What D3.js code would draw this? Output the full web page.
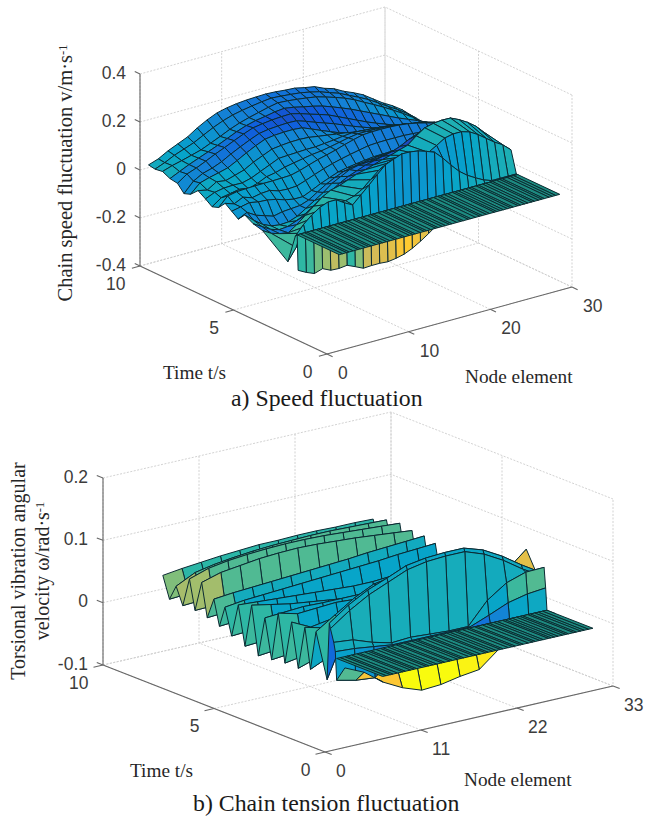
<!DOCTYPE html>
<html>
<head>
<meta charset="utf-8">
<script src="https://cdn.jsdelivr.net/npm/d3@7"></script>
<style>
  html, body { margin: 0; padding: 0; background: #fff; }
  svg { display: block; }
  .tick-label { font-family: "Liberation Sans", Arial, sans-serif; font-size: 17.5px; fill: #3c3c3c; }
  .axis-title { font-family: "Liberation Serif", "Times New Roman", serif; font-size: 19.3px; fill: #262626; }
  .caption { font-family: "Liberation Serif", "Times New Roman", serif; font-size: 23.8px; fill: #1a1a1a; }
</style>
</head>
<body>
<svg id="chart" width="647" height="818"></svg>
<script>
// parula, low to high
const parulaColors = ["#352a87", "#0f5cdd", "#1481d6", "#06a4ca", "#2eb7a4", "#87bf77", "#d1bb59", "#fec832", "#f9fb0e"];

// ---- a) speed fluctuation ----
const speedZTicks = [-0.4, -0.2, 0, 0.2, 0.4];
const speedTimeTicks = [0, 5, 10];
const speedNodeTicks = [0, 10, 20, 30];
const speedNodes = [1.5, 2.5, 3.5, 4.5, 5.5, 6.5, 7.5, 8.5, 9.5, 10.5, 11.5, 12.5, 13.5, 14.5, 15.5, 16.5, 17.5, 18.5, 19.5, 20.5, 21.5, 22.5, 23.5, 24.5, 25.5, 26.5, 27.5, 28.5];
// rows run late at the far nodes
const speedSkew = [1, .989, .979, .968, .957, .947, .936, .925, .914, .904, .893, .882, .872, .861, .85, .84, .829, .818, .807, .797, .786, .775, .765, .754, .743, .733, .722, .711];
const speedTimes = [2.2, 2.25, 2.35, 2.75, 4.1, 4.6, 5.05, 5.4, 5.75, 6.1, 6.45, 6.8, 7.15, 7.55, 7.95, 8.3, 8.65, 9.05, 9.45, 9.85, 10.2];
const speedRows = [
  [-.146, -.164, -.178, -.167, -.183, -.185, -.181, -.196, -.212, -.21, -.21, -.213, -.208, -.2, -.185, -.165, -.142, -.117, -.09, -.06, -.03, 0, 0, 0, 0, 0, 0, 0],
  [0, 0, 0, 0, 0, 0, 0, 0, 0, 0, 0, 0, 0, 0, 0, 0, 0, 0, 0, 0, 0, 0, 0, 0, 0, 0, 0, 0],
  [-.01, .03, .06, .083, .096, .096, .074, .056, .088, .12, .154, .186, .2, .213, .212, .207, .196, .183, .15, .111, .076, .05, .03, .012, 0, 0, 0, 0],
  [-.13, -.08, -.03, 0, .03, .05, .06, .06, .07, .09, .12, .15, .17, .18, .18, .175, .17, .17, .19, .212, .22, .22, .21, .19, .165, .14, .12, .09],
  [-.05, -.07, -.08, -.085, -.06, -.03, 0, .03, .05, .06, .075, .09, .1, .112, .125, .135, .148, .16, .19, .215, .225, .23, .23, .215, .195, .17, .135, .096],
  [-.04, -.06, -.08, -.09, -.085, -.07, -.05, -.025, 0, .02, .045, .065, .08, .095, .105, .115, .125, .14, .16, .175, .185, .19, .19, .18, .165, .145, .115, .08],
  [-.02, -.05, -.075, -.09, -.094, -.09, -.075, -.05, -.025, 0, .03, .05, .07, .08, .085, .09, .095, .1, .11, .12, .13, .14, .15, .15, .14, .12, .09, .06],
  [-.05, -.03, -.05, -.06, -.07, -.06, -.055, -.05, -.035, -.01, .015, .035, .052, .062, .07, .077, .083, .087, .093, .1, .107, .113, .12, .12, .115, .1, .08, .055],
  [-.03, -.02, -.01, -.015, -.015, -.02, -.03, -.035, -.033, -.015, .005, .022, .038, .048, .056, .063, .07, .073, .077, .08, .083, .086, .089, .092, .093, .085, .07, .05],
  [-.01, -.02, 0, -.01, 0, .005, -.005, -.005, 0, .015, .032, .048, .062, .074, .085, .095, .105, .11, .113, .115, .117, .117, .116, .114, .11, .1, .086, .07],
  [-.04, 0, .01, .015, .019, .022, .025, .029, .033, .045, .06, .075, .087, .1, .115, .128, .14, .145, .148, .15, .15, .148, .143, .136, .128, .118, .103, .088],
  [-.05, -.02, -.01, 0, -.005, .01, .03, .04, .055, .065, .075, .085, .092, .102, .113, .124, .133, .136, .138, .139, .138, .136, .131, .126, .12, .11, .1, .085],
  [-.03, -.01, 0, .005, .007, .02, .04, .06, .08, .085, .09, .095, .098, .105, .112, .12, .127, .128, .128, .128, .127, .124, .12, .117, .113, .105, .095, .083],
  [-.01, -.015, .012, .01, .025, .04, .065, .085, .105, .113, .12, .124, .125, .122, .12, .117, .115, .111, .106, .102, .098, .097, .096, .095, .094, .088, .08, .07],
  [-.04, 0, .015, .028, .042, .065, .09, .113, .133, .142, .148, .152, .152, .14, .127, .115, .103, .094, .085, .077, .07, .07, .072, .074, .075, .07, .065, .06],
  [-.05, -.005, .02, .035, .055, .08, .103, .125, .145, .155, .162, .168, .17, .161, .15, .14, .13, .118, .106, .095, .085, .079, .074, .07, .066, .061, .057, .054],
  [-.02, .012, .03, .052, .075, .095, .117, .138, .157, .167, .176, .183, .188, .182, .173, .165, .156, .142, .128, .114, .1, .088, .077, .066, .056, .052, .05, .048],
  [-.015, .008, .03, .05, .07, .09, .112, .134, .153, .167, .178, .19, .198, .196, .191, .187, .181, .171, .16, .148, .134, .12, .106, .092, .078, .066, .054, .04],
  [0, .018, .032, .048, .064, .085, .107, .13, .15, .166, .181, .196, .208, .21, .21, .209, .207, .2, .192, .182, .169, .152, .136, .119, .1, .08, .058, .033],
  [-.005, .016, .04, .06, .08, .105, .13, .152, .17, .183, .195, .206, .215, .217, .218, .218, .215, .21, .2, .191, .176, .162, .146, .126, .105, .086, .063, .036],
  [0, .019, .046, .069, .092, .123, .15, .173, .188, .199, .208, .215, .221, .224, .225, .227, .223, .221, .208, .2, .183, .171, .156, .133, .11, .092, .069, .038]
];
// colour of each strip between two rows
const speedShades = [.5, .43, .5, .6, .24, .22, .28, .32, .34, .36, .38, .38, .4, .4, .3, .28, .3, .42, .42, .42, .42];
const speedSkirtTones = [.5, .52, .6, .66, .72, .66, .5, .62, .74, .76, .78, .8, .86, .88, .84, .8, .74, .7, .6, .55, .5, .5, .5, .5, .5, .5, .5];
const speedHumpTones = [.52, .52, .5, .5, .5, .48, .48, .46, .44, .42, .4, .38, .36, .36, .36, .38, .4, .42, .44, .44, .45, .45, .44, .42, .42, .42, .42];
const speedValleyTones = [.45, .45, .45, .45, .42, .4, .4, .38, .36, .32, .28, .25, .2, .15, .1, .05, .03, .03, .05, .1, .15, .2, .25, .25, .28, .3, .3];
const speedBandNodes = [1.5, 1.9, 2.4, 2.7, 3.2, 3.8, 4.1, 4.7, 5.1, 5.4, 6, 6.5, 6.8, 7.3, 7.7, 8.3, 8.6, 9.2, 9.5, 10.1, 10.5, 10.8, 11.4, 11.9, 12.2, 12.7, 13.3, 13.6, 14.1, 14.5, 15, 15.3, 15.9, 16.4, 16.7, 17.3, 17.6, 18.2, 18.7, 19, 19.5, 19.9, 20.5, 20.8, 21.2, 21.6, 22.1, 22.5, 22.8, 23.4, 23.7, 24.2, 24.6, 25.1, 25.4, 25.9, 26.3, 26.6, 27.2, 27.6, 28, 28.5];
const speedBandTimes = [0, 2.25];

// ---- b) chain tension fluctuation ----
const torsionZTicks = [-0.1, 0, 0.1, 0.2];
const torsionTimeTicks = [0, 5, 10];
const torsionNodeTicks = [0, 11, 22, 33];
const torsionNodes = [6.6, 8.8, 11, 13.2, 15.4, 17.6, 19.8, 22, 24.2, 26.4, 28.6, 30.7];
const torsionTimes = [1.7, 2.07, 2.13, 2.2, 2.35, 2.4, 2.5, 3, 3.25, 3.5, 3.8, 4.1, 4.4, 4.7, 5, 5.3, 5.6, 5.9, 6.2, 6.5, 6.8, 7.1, 7.35, 7.6, 7.9, 8.15, 8.45, 8.7, 9, 9.3, 9.6, 9.9];
const torsionRows = [
  [-.01, -.024, -.047, -.063, -.074, -.072, -.066, -.062, -.037, -.01, 0, 0],
  [-.035, -.042, -.045, -.02, -.01, -.005, 0, 0, 0, 0, 0, 0],
  [.01, .008, .004, 0, 0, 0, 0, 0, .012, .025, .032, .035],
  [.024, .021, .01, .002, .004, .002, 0, 0, .035, .056, .066, .067],
  [.044, .066, .084, .097, .11, .116, .118, .118, .107, .09, .069, .052],
  [.052, .074, .091, .103, .116, .121, .123, .123, .113, .096, .075, .057],
  [-.04, .03, .07, .09, .1, .105, .108, .108, .1, .085, .065, .05],
  [.03, .05, .07, .085, .09, .095, .1, .1, .09, .08, .06, .085],
  [-.034, -.02, -.01, -.005, 0, 0, 0, 0, 0, 0, 0, 0],
  [.03, .022, .03, .03, .03, .03, .03, .03, .03, .03, .03, .03],
  [-.04, -.03, -.02, -.01, 0, 0, 0, 0, 0, 0, 0, 0],
  [.03, .015, .02, .02, .025, .025, .03, .03, .03, .03, .03, .03],
  [-.04, -.035, -.03, -.02, -.01, -.005, 0, 0, 0, 0, 0, 0],
  [.036, .028, .03, .032, .03, .028, .026, .025, .025, .025, .025, .025],
  [-.043, -.04, -.035, -.03, -.025, -.02, -.02, -.02, -.02, -.02, -.02, -.02],
  [.02, .022, .024, .023, .023, .023, .024, .024, .025, .025, .025, .025],
  [-.045, -.042, -.04, -.035, -.03, -.03, -.03, -.03, -.03, -.03, -.03, -.03],
  [.032, .026, .02, .016, .012, .008, .007, .007, .01, .012, .015, .018],
  [-.038, -.036, -.034, -.032, -.03, -.03, -.03, -.03, -.03, -.03, -.03, -.03],
  [.024, .022, .02, .018, .016, .014, .012, .012, .014, .016, .018, .02],
  [-.03, -.028, -.026, -.025, -.025, -.025, -.025, -.025, -.025, -.025, -.025, -.025],
  [.012, .016, .018, .02, .022, .024, .026, .028, .03, .033, .035, .037],
  [-.022, -.02, -.018, -.017, -.016, -.015, -.015, -.015, -.015, -.015, -.015, -.015],
  [.018, .021, .023, .025, .027, .029, .031, .033, .036, .038, .04, .042],
  [-.016, -.014, -.012, -.011, -.01, -.01, -.01, -.01, -.01, -.01, -.01, -.01],
  [.037, .046, .05, .054, .056, .057, .056, .054, .052, .049, .046, .043],
  [-.012, -.011, -.01, -.009, -.008, -.007, -.006, -.006, -.005, -.005, -.005, -.005],
  [.035, .045, .05, .053, .055, .056, .056, .055, .053, .051, .049, .047],
  [-.012, -.01, -.008, -.007, -.006, -.006, -.005, -.005, -.005, -.005, -.005, -.005],
  [.015, .03, .036, .04, .043, .045, .046, .047, .047, .046, .045, .044],
  [-.01, -.008, -.006, -.005, -.004, -.004, -.004, -.004, -.004, -.004, -.004, -.004],
  [.024, .028, .031, .034, .036, .038, .038, .039, .039, .038, .038, .037]
];
const torsionShades = [.9, .4, .4, .46, .46, .4, .4, .4, .38, .4, .38, .4, .38, .4, .38, .4, .38, .4, .38, .4, .38, .4, .42, .42, .56, .56, .56, .56, .56, .5, .5];
const torsionBulgeTones = [.55, .85, .87, 1, 1, 1, .98, .96, .8, .5, .5];
const torsionLobeTones = [.36, .32, .27, .2, .2, .2, .2, .2, .26, .38, .4];
const torsionNearTones = [.42, .42, .4, .4, .4, .4, .4, .4, .38, .52, .55];
const torsionSpikeTones = [.17, .38, .38, .38, .38, .38, .38, .38, .38, .38, .38];
const torsionBackTones = [.5, .38, .38, .38, .38, .38, .38, .38, .38, .38, .8];
const torsionBandNodes = [6.6, 7, 7.5, 7.8, 8.3, 8.9, 9.2, 9.8, 10.2, 10.5, 11.1, 11.6, 11.9, 12.4, 12.8, 13.4, 13.7, 14.3, 14.6, 15.2, 15.6, 15.9, 16.5, 17, 17.3, 17.8, 18.4, 18.7, 19.2, 19.6, 20.1, 20.4, 21, 21.5, 21.8, 22.4, 22.7, 23.3, 23.8, 24.1, 24.6, 25, 25.6, 25.9, 26.3, 26.7, 27.2, 27.6, 27.9, 28.5, 28.8, 29.3, 29.7, 30.2, 30.7];
const torsionBandTimes = [0, 2.07];

const svg = d3.select("#chart");
const parulaScale = d3.scaleLinear().domain(d3.range(parulaColors.length).map(i => i / (parulaColors.length - 1))).range(parulaColors).clamp(true);

function drawPanel(opts) {
  const g = svg.append("g");

  const nodeScale = d3.scaleLinear().domain(opts.nodeDomain).range([[0, 0], opts.nodeVec]);
  const timeScale = d3.scaleLinear().domain([0, 10]).range([[0, 0], opts.timeVec]);
  const zScale = d3.scaleLinear().domain(opts.zDomain).range([0, -opts.zHeight]);
  const project = (n, t, z) => {
    const a = nodeScale(n), b = timeScale(t);
    return [opts.corner[0] + a[0] + b[0], opts.corner[1] + a[1] + b[1] + zScale(z)];
  };
  const line = d3.line();
  const nMax = opts.nodeDomain[1], zMin = opts.zDomain[0], zMax = opts.zDomain[1];

  // dotted grid on the walls and floor
  const grid = [];
  opts.zTicks.forEach(z => {
    grid.push([project(0, 10, z), project(nMax, 10, z), project(nMax, 0, z)]);
  });
  opts.nodeTicks.forEach(n => {
    grid.push([project(n, 0, zMin), project(n, 10, zMin), project(n, 10, zMax)]);
  });
  opts.timeTicks.forEach(t => {
    grid.push([project(0, t, zMin), project(nMax, t, zMin), project(nMax, t, zMax)]);
  });
  g.append("g").selectAll("path").data(grid).join("path")
    .attr("d", line)
    .attr("fill", "none")
    .attr("stroke", "#cdcdcd")
    .attr("stroke-width", 0.9)
    .attr("stroke-dasharray", "2 1.5");

  // solid axes
  const axes = [
    [project(0, 10, zMin), project(0, 10, zMax)],
    [project(0, 10, zMin), project(0, 0, zMin)],
    [project(0, 0, zMin), project(nMax, 0, zMin)]
  ];
  opts.zTicks.forEach(z => axes.push([project(0, 10, z), project(0, 10.28, z)]));
  opts.timeTicks.forEach(t => axes.push([project(0, t, zMin), project(-nMax * 0.033, t, zMin)]));
  opts.nodeTicks.forEach(n => axes.push([project(n, 0, zMin), project(n, -0.3, zMin)]));
  g.append("g").selectAll("path").data(axes).join("path")
    .attr("d", line)
    .attr("fill", "none")
    .attr("stroke", "#666")
    .attr("stroke-width", 1.1);

  // surface strips, far rows first and far nodes first
  const quads = [];
  for (let r = opts.times.length - 2; r >= 0; r--) {
    for (let c = opts.nodes.length - 2; c >= 0; c--) {
      const tAt = (row, col) => {
        if (!opts.skew) return opts.times[row];
        return opts.skewFrom + (opts.times[row] - opts.skewFrom) * opts.skew[col];
      };
      const corners = [[r, c], [r, c + 1], [r + 1, c + 1], [r + 1, c]];
      const pts = corners.map(d => project(opts.nodes[d[1]], tAt(d[0], d[1]), opts.rows[d[0]][d[1]]));
      const mean = Math.max(d3.mean(corners, d => opts.rows[d[0]][d[1]]), 0);
      const tones = opts.tones[r];
      let frac = tones ? tones[c] : opts.shades[r] - opts.gain * mean;
      if (c === 0 && r > 7) frac += opts.edgeLift;
      quads.push({ pts, frac });
    }
  }
  g.append("g").selectAll("path").data(quads).join("path")
    .attr("d", d => line(d.pts) + "Z")
    .attr("fill", d => parulaScale(d.frac))
    .attr("stroke", "#0b2a33")
    .attr("stroke-width", 1)
    .attr("stroke-linejoin", "round");

  // flat dense strip nearest the viewer
  const band = [];
  for (let c = opts.bandNodes.length - 2; c >= 0; c--) {
    band.push([
      project(opts.bandNodes[c], opts.bandTimes[1], 0),
      project(opts.bandNodes[c + 1], opts.bandTimes[1], 0),
      project(opts.bandNodes[c + 1], opts.bandTimes[0], 0),
      project(opts.bandNodes[c], opts.bandTimes[0], 0)
    ]);
  }
  g.append("g").selectAll("path").data(band).join("path")
    .attr("d", d => line(d) + "Z")
    .attr("fill", "#1d8a80")
    .attr("stroke", "#0a2b30")
    .attr("stroke-width", 1);

  // tick labels
  g.append("g").selectAll("text").data(opts.zTicks).join("text")
    .attr("class", "tick-label")
    .attr("text-anchor", "end")
    .attr("x", z => project(0, 10, z)[0] - opts.zLabelGap)
    .attr("y", z => project(0, 10, z)[1] - 1.5)
    .attr("dy", "0.35em")
    .text(z => z);
  g.append("g").selectAll("text").data(opts.timeTicks).join("text")
    .attr("class", "tick-label")
    .attr("text-anchor", "end")
    .attr("x", t => project(0, t, zMin)[0] - 14.5)
    .attr("y", t => project(0, t, zMin)[1] + 17.5)
    .attr("dy", "0.35em")
    .text(t => t);
  g.append("g").selectAll("text").data(opts.nodeTicks).join("text")
    .attr("class", "tick-label")
    .attr("text-anchor", "start")
    .attr("x", n => project(n, 0, zMin)[0] + 11)
    .attr("y", n => project(n, 0, zMin)[1] + 19)
    .attr("dy", "0.35em")
    .text(n => n);

  // titles
  g.append("text").attr("class", "axis-title").attr("x", opts.timeTitle[0]).attr("y", opts.timeTitle[1]).text("Time t/s");
  g.append("text").attr("class", "axis-title").attr("x", opts.nodeTitle[0]).attr("y", opts.nodeTitle[1]).text("Node element");
  g.append("text").attr("class", "caption").attr("x", opts.captionAt[0]).attr("y", opts.captionAt[1]).text(opts.caption);

  opts.yTitle.forEach(l => {
    const t = g.append("text")
      .attr("class", "axis-title")
      .attr("text-anchor", "middle")
      .style("font-size", l.size + "px")
      .attr("transform", `translate(${l.x},${l.y}) rotate(-90)`);
    t.append("tspan").text(l.text);
    if (l.sup) t.append("tspan").attr("dy", "-0.4em").style("font-size", "12.5px").text(l.sup);
  });
}

drawPanel({
  corner: [327, 354], nodeVec: [245, -67], timeVec: [-187, -88], zHeight: 192,
  nodeDomain: [0, 30], zDomain: [-0.4, 0.4],
  zTicks: speedZTicks, timeTicks: speedTimeTicks, nodeTicks: speedNodeTicks,
  nodes: speedNodes, times: speedTimes, rows: speedRows,
  skew: speedSkew, skewFrom: 2.25,
  shades: speedShades, gain: 1, edgeLift: 0,
  tones: { 0: speedSkirtTones, 3: speedHumpTones, 5: speedValleyTones },
  bandNodes: speedBandNodes, bandTimes: speedBandTimes,
  zLabelGap: 14,
  timeTitle: [163, 379], nodeTitle: [465, 383],
  captionAt: [231, 406], caption: "a) Speed fluctuation",
  yTitle: [{ x: 72, y: 173, size: 20.5, text: "Chain speed fluctuation v/m·s", sup: "-1" }]
});

drawPanel({
  corner: [325, 752], nodeVec: [288, -66], timeVec: [-222, -87], zHeight: 187,
  nodeDomain: [0, 33], zDomain: [-0.1, 0.2],
  zTicks: torsionZTicks, timeTicks: torsionTimeTicks, nodeTicks: torsionNodeTicks,
  nodes: torsionNodes, times: torsionTimes, rows: torsionRows,
  shades: torsionShades, gain: 0.6, edgeLift: 0.12,
  tones: { 0: torsionBulgeTones, 1: torsionLobeTones, 2: torsionNearTones, 5: torsionSpikeTones, 6: torsionBackTones },
  bandNodes: torsionBandNodes, bandTimes: torsionBandTimes,
  zLabelGap: 15,
  timeTitle: [130, 777], nodeTitle: [464, 786],
  captionAt: [193, 811], caption: "b) Chain tension fluctuation",
  yTitle: [
    { x: 25, y: 571, size: 20, text: "Torsional vibration angular" },
    { x: 49, y: 571, size: 20, text: "velocity ω/rad·s", sup: "-1" }
  ]
});
</script>
</body>
</html>
